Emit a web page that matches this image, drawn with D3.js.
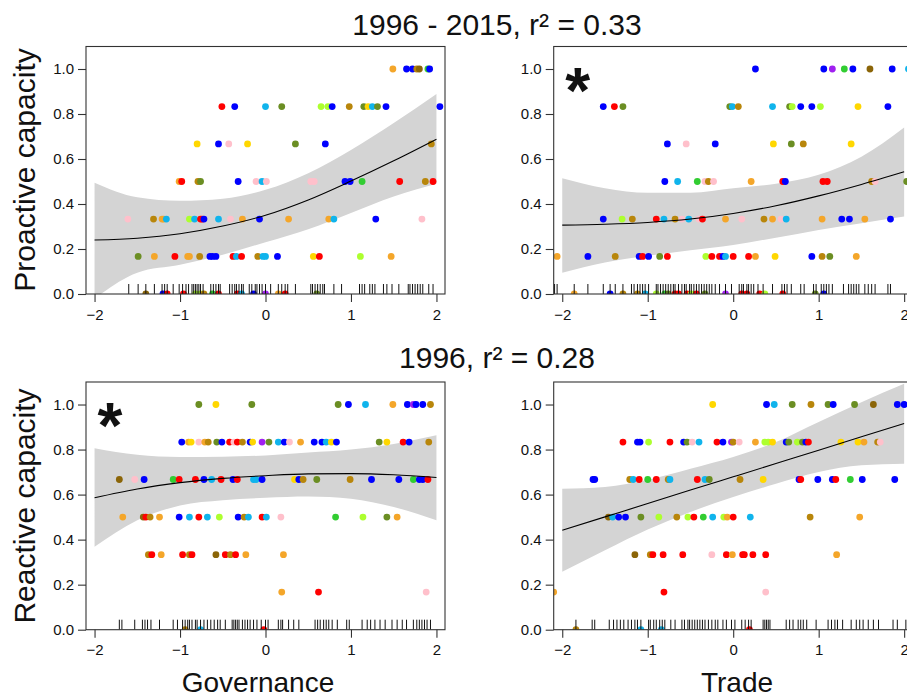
<!DOCTYPE html>
<html><head><meta charset="utf-8">
<script src="https://cdn.jsdelivr.net/npm/d3@7"></script>
<style>
body{margin:0;background:#fff}
svg text{font-family:"Liberation Sans",Arial,Helvetica,sans-serif;fill:#111}
</style>
</head><body>
<svg id="chart" width="907" height="698"></svg>
<script>
// ---------------- DATA ----------------
const palette = {R:"#FF0000",B:"#0000FF",C:"#10B4EC",O:"#6B8E23",Y:"#FFD700",P:"#FFC0CB",
  A:"#F4A62A",G:"#B8860B",N:"#8B6508",L:"#32CD32",V:"#ADFF2F",U:"#A020F0"};

const titles = ["1996 - 2015, r\u00B2 = 0.33", "1996, r\u00B2 = 0.28"];
const yLabels = ["Proactive capacity", "Reactive capacity"];
const xLabels = ["Governance", "Trade"];
const yTicks = [0, 0.2, 0.4, 0.6, 0.8, 1.0];
const xTicks = [-2, -1, 0, 1, 2];
const fitX = [-2, -1.5, -1, -0.5, 0, 0.5, 1, 1.5, 2];

// points: [x, y, colour key]
const proGovPoints = [
 [1.49,1,"A"],[1.65,1,"B"],[1.72,1,"B"],[1.77,1,"G"],[1.80,1,"N"],[1.90,1,"L"],[1.92,1,"B"],
 [-0.51,.833,"R"],[-0.36,.833,"B"],[0.0,.833,"C"],[0.19,.833,"O"],[0.65,.833,"V"],[0.73,.833,"V"],[0.78,.833,"B"],[0.98,.833,"G"],[1.15,.833,"O"],[1.20,.833,"Y"],[1.25,.833,"C"],[1.31,.833,"O"],[1.41,.833,"B"],[2.04,.833,"B"],
 [-0.80,.667,"Y"],[-0.55,.667,"B"],[-0.43,.667,"P"],[-0.21,.667,"Y"],[0.35,.667,"O"],[0.70,.667,"B"],[1.94,.667,"G"],
 [-1.01,.5,"A"],[-0.98,.5,"R"],[-0.79,.5,"G"],[-0.76,.5,"O"],[-0.32,.5,"B"],[-0.11,.5,"P"],[-0.04,.5,"C"],[0.01,.5,"P"],[0.53,.5,"P"],[0.57,.5,"P"],[0.93,.5,"B"],[0.99,.5,"B"],[1.13,.5,"L"],[1.57,.5,"R"],[1.87,.5,"G"],[1.96,.5,"R"],
 [-1.61,.333,"P"],[-1.31,.333,"G"],[-1.21,.333,"A"],[-1.19,.333,"A"],[-1.16,.333,"C"],[-0.89,.333,"V"],[-0.83,.333,"C"],[-0.76,.333,"R"],[-0.74,.333,"R"],[-0.72,.333,"B"],[-0.55,.333,"C"],[-0.41,.333,"P"],[-0.27,.333,"A"],[-0.07,.333,"B"],[0.27,.333,"A"],[0.74,.333,"A"],[0.80,.333,"C"],[1.29,.333,"B"],[1.83,.333,"P"],
 [-1.49,.167,"O"],[-1.30,.167,"A"],[-1.06,.167,"R"],[-0.91,.167,"A"],[-0.89,.167,"A"],[-0.77,.167,"G"],[-0.65,.167,"B"],[-0.62,.167,"B"],[-0.58,.167,"B"],[-0.38,.167,"R"],[-0.34,.167,"C"],[-0.28,.167,"R"],[-0.09,.167,"G"],[-0.03,.167,"C"],[0.0,.167,"C"],[0.14,.167,"B"],[0.56,.167,"Y"],[0.63,.167,"R"],[1.11,.167,"V"],[1.47,.167,"A"],
 [-1.40,0,"N"],[-1.20,0,"B"],[-1.15,0,"R"],[-0.96,0,"R"],[-0.82,0,"V"],[-0.76,0,"V"],[-0.72,0,"G"],[-0.62,0,"L"],[-0.55,0,"R"],[-0.33,0,"R"],[-0.28,0,"C"],[-0.14,0,"B"],[0.0,0,"U"],[0.15,0,"A"],[0.23,0,"R"],[0.60,0,"O"]
];
const proTradePoints = [
 [0.26,1,"B"],[1.06,1,"B"],[1.16,1,"U"],[1.30,1,"L"],[1.40,1,"B"],[1.60,1,"N"],[1.86,1,"B"],[2.05,1,"C"],
 [-1.52,.833,"B"],[-1.39,.833,"R"],[-1.29,.833,"O"],[-0.04,.833,"O"],[-0.01,.833,"C"],[0.06,.833,"G"],[0.46,.833,"C"],[0.66,.833,"O"],[0.69,.833,"V"],[0.79,.833,"B"],[0.92,.833,"B"],[1.02,.833,"V"],[1.46,.833,"Y"],[1.81,.833,"B"],
 [-0.77,.667,"B"],[-0.55,.667,"P"],[-0.21,.667,"B"],[0.47,.667,"Y"],[0.68,.667,"O"],[0.82,.667,"G"],[1.38,.667,"Y"],
 [-0.80,.5,"B"],[-0.65,.5,"C"],[-0.42,.5,"L"],[-0.33,.5,"P"],[-0.29,.5,"G"],[-0.23,.5,"P"],[0.21,.5,"A"],[0.58,.5,"R"],[0.61,.5,"B"],[1.05,.5,"R"],[1.10,.5,"R"],[1.62,.5,"G"],[1.66,.5,"P"],[2.03,.5,"O"],
 [-1.52,.333,"B"],[-1.30,.333,"V"],[-1.18,.333,"G"],[-0.90,.333,"R"],[-0.81,.333,"C"],[-0.68,.333,"G"],[-0.60,.333,"P"],[-0.52,.333,"C"],[-0.40,.333,"P"],[-0.36,.333,"R"],[-0.09,.333,"A"],[0.10,.333,"P"],[0.36,.333,"G"],[0.46,.333,"A"],[0.56,.333,"P"],[0.62,.333,"C"],[1.04,.333,"A"],[1.27,.333,"B"],[1.36,.333,"B"],[1.54,.333,"A"],[1.84,.333,"B"],
 [-2.06,.167,"A"],[-1.70,.167,"B"],[-1.38,.167,"G"],[-1.10,.167,"B"],[-1.06,.167,"R"],[-0.99,.167,"B"],[-0.86,.167,"O"],[-0.77,.167,"R"],[-0.32,.167,"V"],[-0.25,.167,"R"],[-0.16,.167,"R"],[-0.12,.167,"B"],[-0.09,.167,"C"],[0.0,.167,"R"],[0.18,.167,"R"],[0.26,.167,"A"],[0.49,.167,"Y"],[0.92,.167,"B"],[1.04,.167,"G"],[1.13,.167,"O"],[1.44,.167,"A"],
 [-1.86,0,"A"],[-1.44,0,"B"],[-1.29,0,"G"],[-1.12,0,"G"],[-1.03,0,"C"],[-0.90,0,"V"],[-0.80,0,"L"],[-0.76,0,"O"],[-0.68,0,"R"],[-0.64,0,"R"],[-0.54,0,"R"],[-0.49,0,"V"],[-0.43,0,"R"],[-0.33,0,"O"],[-0.09,0,"U"],[0.10,0,"R"],[0.16,0,"R"],[0.31,0,"R"],[0.37,0,"V"],[0.58,0,"R"],[0.96,0,"O"],[1.06,0,"B"]
];
const reGovPoints = [
 [-0.78,1,"O"],[-0.58,1,"Y"],[-0.16,1,"O"],[0.85,1,"O"],[0.97,1,"B"],[1.17,1,"C"],[1.49,1,"A"],[1.66,1,"B"],[1.73,1,"U"],[1.76,1,"B"],[1.84,1,"B"],[1.93,1,"G"],
 [-0.98,.833,"B"],[-0.90,.833,"A"],[-0.87,.833,"Y"],[-0.78,.833,"P"],[-0.71,.833,"A"],[-0.67,.833,"G"],[-0.57,.833,"O"],[-0.51,.833,"B"],[-0.42,.833,"R"],[-0.37,.833,"P"],[-0.33,.833,"R"],[-0.27,.833,"G"],[-0.18,.833,"B"],[-0.15,.833,"Y"],[-0.04,.833,"U"],[0.04,.833,"O"],[0.15,.833,"C"],[0.22,.833,"B"],[0.28,.833,"P"],[0.41,.833,"A"],[0.57,.833,"B"],[0.66,.833,"B"],[0.71,.833,"C"],[0.77,.833,"Y"],[0.83,.833,"B"],[1.33,.833,"O"],[1.42,.833,"Y"],[1.61,.833,"R"],[1.68,.833,"B"],[1.91,.833,"G"],
 [-1.71,.667,"N"],[-1.53,.667,"P"],[-1.42,.667,"B"],[-1.08,.667,"L"],[-1.01,.667,"R"],[-0.82,.667,"R"],[-0.72,.667,"B"],[-0.63,.667,"C"],[-0.52,.667,"R"],[-0.38,.667,"B"],[-0.33,.667,"R"],[-0.14,.667,"C"],[-0.11,.667,"C"],[-0.04,.667,"B"],[0.34,.667,"Y"],[0.39,.667,"B"],[0.44,.667,"G"],[0.60,.667,"O"],[0.99,.667,"G"],[1.24,.667,"B"],[1.56,.667,"B"],[1.73,.667,"L"],[1.80,.667,"B"],[1.84,.667,"B"],[1.90,.667,"R"],
 [-1.67,.5,"A"],[-1.43,.5,"N"],[-1.40,.5,"R"],[-1.35,.5,"G"],[-1.24,.5,"A"],[-1.01,.5,"B"],[-0.89,.5,"C"],[-0.78,.5,"R"],[-0.68,.5,"C"],[-0.54,.5,"V"],[-0.32,.5,"B"],[-0.25,.5,"G"],[-0.20,.5,"C"],[-0.04,.5,"R"],[0.01,.5,"C"],[0.18,.5,"P"],[0.82,.5,"L"],[1.14,.5,"V"],[1.42,.5,"O"],[1.54,.5,"A"],
 [-1.37,.333,"G"],[-1.33,.333,"R"],[-1.22,.333,"A"],[-0.97,.333,"R"],[-0.89,.333,"G"],[-0.86,.333,"R"],[-0.58,.333,"N"],[-0.47,.333,"R"],[-0.41,.333,"G"],[-0.35,.333,"R"],[-0.23,.333,"A"],[0.21,.333,"A"],
 [0.19,.167,"A"],[0.62,.167,"R"],[1.88,.167,"P"],
 [-0.94,0,"G"],[-0.76,0,"C"],[-0.02,0,"R"]
];
const reTradePoints = [
 [-0.24,1,"Y"],[0.39,1,"B"],[0.48,1,"C"],[0.69,1,"O"],[0.91,1,"G"],[1.11,1,"O"],[1.17,1,"B"],[1.42,1,"O"],[1.64,1,"N"],[1.92,1,"B"],[2.0,1,"B"],
 [-1.29,.833,"R"],[-1.12,.833,"B"],[-1.09,.833,"B"],[-0.99,.833,"V"],[-0.74,.833,"R"],[-0.58,.833,"B"],[-0.54,.833,"O"],[-0.48,.833,"P"],[-0.40,.833,"C"],[-0.19,.833,"R"],[-0.12,.833,"B"],[-0.02,.833,"U"],[0.0,.833,"G"],[0.07,.833,"P"],[0.26,.833,"A"],[0.37,.833,"V"],[0.41,.833,"V"],[0.46,.833,"Y"],[0.62,.833,"B"],[0.65,.833,"O"],[0.75,.833,"V"],[0.81,.833,"O"],[0.85,.833,"B"],[0.88,.833,"R"],[1.26,.833,"Y"],[1.46,.833,"Y"],[1.53,.833,"A"],[1.69,.833,"G"],[1.72,.833,"P"],
 [-1.64,.667,"B"],[-1.62,.667,"B"],[-1.21,.667,"G"],[-1.17,.667,"C"],[-1.10,.667,"R"],[-1.00,.667,"L"],[-0.90,.667,"R"],[-0.76,.667,"G"],[-0.74,.667,"C"],[-0.42,.667,"R"],[-0.33,.667,"C"],[-0.28,.667,"O"],[0.08,.667,"G"],[0.35,.667,"Y"],[0.77,.667,"B"],[0.79,.667,"R"],[0.99,.667,"B"],[1.16,.667,"B"],[1.20,.667,"R"],[1.37,.667,"L"],[1.51,.667,"B"],[1.89,.667,"B"],
 [-1.46,.5,"N"],[-1.41,.5,"C"],[-1.34,.5,"B"],[-1.26,.5,"B"],[-1.08,.5,"O"],[-0.87,.5,"V"],[-0.66,.5,"G"],[-0.53,.5,"V"],[-0.46,.5,"R"],[-0.35,.5,"L"],[-0.24,.5,"C"],[-0.11,.5,"V"],[-0.07,.5,"A"],[0.0,.5,"R"],[0.20,.5,"C"],[0.90,.5,"G"],[1.48,.5,"A"],
 [-1.15,.333,"N"],[-0.97,.333,"G"],[-0.94,.333,"R"],[-0.82,.333,"R"],[-0.59,.333,"R"],[-0.25,.333,"P"],[-0.08,.333,"R"],[-0.01,.333,"A"],[0.11,.333,"R"],[0.13,.333,"R"],[0.23,.333,"R"],[0.38,.333,"R"],[1.21,.333,"A"],
 [-2.10,.167,"A"],[-0.81,.167,"R"],[0.38,.167,"P"],
 [-1.84,0,"G"],[-1.08,0,"C"],[-0.84,0,"C"],[0.19,0,"R"]
];

// rug x values
const proGovRug = [-1.60,-1.49,-1.40,-1.30,-1.21,-1.18,-1.15,-1.08,-1.01,-0.97,-0.93,-0.90,-0.86,-0.84,-0.82,-0.80,-0.78,-0.76,-0.73,-0.64,-0.61,-0.58,-0.55,-0.53,-0.42,-0.39,-0.36,-0.34,-0.31,-0.28,-0.26,-0.19,-0.16,-0.12,-0.10,-0.07,-0.04,0.00,0.06,0.15,0.19,0.23,0.26,0.35,0.53,0.55,0.58,0.61,0.64,0.67,0.69,0.80,0.89,1.10,1.13,1.16,1.22,1.25,1.28,1.38,1.42,1.48,1.56,1.67,1.69,1.72,1.75,1.78,1.81,1.84,1.91,1.96];
const proTradeRug = [-2.09,-2.06,-1.86,-1.70,-1.52,-1.44,-1.38,-1.29,-1.19,-1.16,-1.12,-1.09,-1.06,-1.03,-0.99,-0.90,-0.88,-0.85,-0.82,-0.79,-0.76,-0.73,-0.70,-0.68,-0.64,-0.60,-0.57,-0.55,-0.51,-0.49,-0.46,-0.43,-0.40,-0.37,-0.34,-0.31,-0.28,-0.25,-0.21,-0.16,-0.09,-0.02,0.07,0.10,0.12,0.16,0.18,0.21,0.24,0.29,0.35,0.46,0.57,0.60,0.63,0.68,0.79,0.83,0.94,0.97,1.03,1.06,1.09,1.12,1.16,1.29,1.35,1.38,1.41,1.44,1.47,1.54,1.58,1.62,1.66,1.81,1.84];
const reGovRug = [-1.71,-1.68,-1.53,-1.44,-1.41,-1.38,-1.34,-1.24,-1.08,-1.03,-0.97,-0.94,-0.91,-0.89,-0.86,-0.82,-0.80,-0.76,-0.72,-0.68,-0.64,-0.60,-0.56,-0.53,-0.47,-0.39,-0.37,-0.35,-0.33,-0.31,-0.27,-0.24,-0.21,-0.18,-0.14,-0.10,-0.05,0.00,0.03,0.15,0.18,0.20,0.27,0.33,0.39,0.58,0.61,0.64,0.68,0.71,0.74,0.78,0.84,0.95,0.98,1.13,1.19,1.23,1.28,1.34,1.40,1.48,1.54,1.60,1.65,1.73,1.77,1.80,1.83,1.86,1.89,1.93];
const reTradeRug = [-1.84,-1.65,-1.62,-1.45,-1.40,-1.36,-1.32,-1.28,-1.23,-1.19,-1.15,-1.12,-1.08,-0.99,-0.97,-0.93,-0.90,-0.86,-0.83,-0.80,-0.73,-0.68,-0.60,-0.57,-0.53,-0.51,-0.48,-0.45,-0.42,-0.39,-0.36,-0.33,-0.29,-0.25,-0.21,-0.18,-0.12,-0.08,-0.02,0.02,0.10,0.14,0.18,0.21,0.35,0.37,0.39,0.41,0.43,0.62,0.66,0.70,0.76,0.79,0.82,0.86,0.97,1.11,1.15,1.19,1.22,1.28,1.38,1.44,1.48,1.52,1.58,1.64,1.70,1.87,1.92,2.02];

// fitted curves and confidence bands at fitX
const proGovFit = [0.240,0.248,0.268,0.302,0.350,0.418,0.502,0.592,0.688];
const proGovLo  = [-0.02,0.095,0.130,0.175,0.230,0.288,0.360,0.433,0.490];
const proGovHi  = [0.495,0.430,0.414,0.423,0.463,0.537,0.640,0.760,0.889];
const proTradeFit = [0.306,0.310,0.318,0.333,0.358,0.392,0.436,0.487,0.543];
const proTradeLo  = [0.095,0.140,0.170,0.195,0.218,0.250,0.285,0.315,0.344];
const proTradeHi  = [0.515,0.470,0.450,0.450,0.470,0.490,0.530,0.610,0.740];
const reGovFit = [0.586,0.625,0.653,0.672,0.684,0.692,0.693,0.688,0.676];
const reGovLo  = [0.368,0.486,0.552,0.575,0.586,0.592,0.582,0.545,0.486];
const reGovHi  = [0.806,0.777,0.767,0.768,0.774,0.787,0.800,0.825,0.863];
const reTradeFit = [0.442,0.501,0.560,0.620,0.679,0.738,0.797,0.857,0.916];
const reTradeLo  = [0.257,0.353,0.445,0.523,0.589,0.648,0.700,0.730,0.737];
const reTradeHi  = [0.626,0.634,0.666,0.715,0.767,0.833,0.922,1.010,1.092];

// significance marks (panel index)
const starPanels = [false, true, true, false];

// ---------------- LAYOUT ----------------
const svg = d3.select("#chart");
const W = 359;
const lefts = [86, 553.7];
const rows = [{top:46.5, bottom:294}, {top:382, bottom:629.7}];

const panels = [
  {col:0,row:0,pts:proGovPoints,rug:proGovRug,fit:proGovFit,lo:proGovLo,hi:proGovHi},
  {col:1,row:0,pts:proTradePoints,rug:proTradeRug,fit:proTradeFit,lo:proTradeLo,hi:proTradeHi},
  {col:0,row:1,pts:reGovPoints,rug:reGovRug,fit:reGovFit,lo:reGovLo,hi:reGovHi},
  {col:1,row:1,pts:reTradePoints,rug:reTradeRug,fit:reTradeFit,lo:reTradeLo,hi:reTradeHi}
];

const defs = svg.append("defs");

panels.forEach((p, i) => {
  const L = lefts[p.col], T = rows[p.row].top, Bm = rows[p.row].bottom;
  const x = d3.scaleLinear().domain([-2.1, 2.1]).range([L, L + W]);
  const y = d3.scaleLinear().domain([0, 1.1]).range([Bm, T]);
  const g = svg.append("g");

  defs.append("clipPath").attr("id", "clip" + i)
    .append("rect").attr("x", L).attr("y", T).attr("width", W).attr("height", Bm - T);
  const inner = g.append("g").attr("clip-path", `url(#clip${i})`);

  const band = fitX.map((xv, k) => ({x: xv, lo: p.lo[k], hi: p.hi[k], f: p.fit[k]}));
  inner.append("path").datum(band)
    .attr("fill", "#d4d4d4")
    .attr("d", d3.area().curve(d3.curveMonotoneX).x(d => x(d.x)).y0(d => y(d.lo)).y1(d => y(d.hi)));

  inner.selectAll("circle").data(p.pts).join("circle")
    .attr("cx", d => x(d[0])).attr("cy", d => y(d[1])).attr("r", 3.4)
    .attr("fill", d => palette[d[2]]);

  inner.append("path").datum(band)
    .attr("fill", "none").attr("stroke", "#000").attr("stroke-width", 1.1)
    .attr("d", d3.line().curve(d3.curveMonotoneX).x(d => x(d.x)).y(d => y(d.f)));

  inner.selectAll("line.rug").data(p.rug).join("line").attr("class", "rug")
    .attr("x1", d => x(d)).attr("x2", d => x(d))
    .attr("y1", y(0)).attr("y2", y(0) - 10)
    .attr("stroke", "#111").attr("stroke-width", 1);

  // frame
  g.append("rect").attr("x", L).attr("y", T).attr("width", W).attr("height", Bm - T)
    .attr("fill", "none").attr("stroke", "#333").attr("stroke-width", 1.1);

  // axes
  const ya = g.append("g").attr("transform", `translate(${L},0)`)
    .call(d3.axisLeft(y).tickValues(yTicks).tickSize(8).tickPadding(4).tickFormat(d3.format(".1f")));
  const xa = g.append("g").attr("transform", `translate(0,${Bm})`)
    .call(d3.axisBottom(x).tickValues(xTicks).tickSize(8).tickPadding(7).tickFormat(d3.format("d")));
  [ya, xa].forEach(a => {
    a.select(".domain").remove();
    a.selectAll(".tick line").attr("stroke", "#333").attr("stroke-width", 1.1);
    a.selectAll(".tick text").attr("font-size", 15).attr("fill", "#222")
      .attr("font-family", '"Liberation Sans",Arial,sans-serif');
  });

  if (starPanels[i]) {
    g.append("text").attr("x", L + 24).attr("y", T + 66)
      .attr("text-anchor", "middle").attr("font-size", 64).attr("font-weight", "bold")
      .text("*");
  }
});

// titles
svg.append("text").attr("x", 497).attr("y", 35).attr("text-anchor", "middle")
  .attr("font-size", 30).text(titles[0]);
svg.append("text").attr("x", 497).attr("y", 368).attr("text-anchor", "middle")
  .attr("font-size", 30).text(titles[1]);

// y labels
[170, 506].forEach((cy, k) => {
  svg.append("text").attr("transform", `translate(35,${cy}) rotate(-90)`)
    .attr("text-anchor", "middle").attr("font-size", 30).text(yLabels[k]);
});
// x labels
[258, 737].forEach((cx, k) => {
  svg.append("text").attr("x", cx).attr("y", 692).attr("text-anchor", "middle")
    .attr("font-size", 28).text(xLabels[k]);
});
</script>
</body></html>
